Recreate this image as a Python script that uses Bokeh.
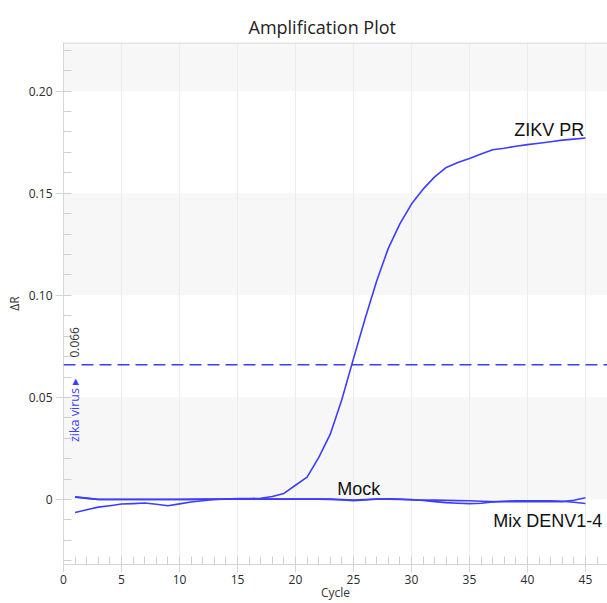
from bokeh.plotting import figure
from bokeh.models import (Range1d, SingleIntervalTicker, BoxAnnotation, Span, Label,
                          CustomJSTickFormatter)
from bokeh.embed import file_html
from bokeh.resources import INLINE
import math

# ---- data ----
cycles = list(range(1, 46))
zikv_pr = [-0.0063, -0.0050, -0.0037, -0.0030, -0.0022, -0.0020, -0.0017, -0.0023, -0.0030, -0.0021,
           -0.0012, -0.0006, 0.0000, 0.0003, 0.0005, 0.0005, 0.0006, 0.0015, 0.0030, 0.0070,
           0.0110, 0.0205, 0.0320, 0.0490, 0.0690, 0.0885, 0.1070, 0.1230, 0.1350, 0.1447,
           0.1520, 0.1580, 0.1626, 0.1650, 0.1670, 0.1692, 0.1713, 0.1720, 0.1730, 0.1738,
           0.1745, 0.1752, 0.1760, 0.1765, 0.1770]
mock = [0.0014, 0.0007, 0.0001, 0.0001, 0.0001, 0.0001, 0.0001, 0.0001, 0.0001, 0.0001,
        0.0001, 0.0002, 0.0002, 0.0002, 0.0002, 0.0003, 0.0003, 0.0003, 0.0003, 0.0003,
        0.0003, 0.0003, 0.0002, 0.0000, -0.0003, 0.0000, 0.0003, 0.0002, 0.0000, -0.0002,
        -0.0003, -0.0003, -0.0004, -0.0005, -0.0006, -0.0008, -0.0010, -0.0010, -0.0010, -0.0010,
        -0.0010, -0.0010, -0.0010, -0.0003, 0.0009]
mix_denv = [0.0012, 0.0006, 0.0000, 0.0000, 0.0000, 0.0000, 0.0000, 0.0000, 0.0000, 0.0000,
            0.0001, 0.0001, 0.0001, 0.0002, 0.0002, 0.0002, 0.0002, 0.0002, 0.0002, 0.0002,
            0.0002, 0.0002, 0.0001, -0.0002, -0.0005, -0.0002, 0.0002, 0.0004, 0.0003, 0.0000,
            -0.0005, -0.0010, -0.0015, -0.0018, -0.0020, -0.0018, -0.0012, -0.0008, -0.0006, -0.0006,
            -0.0006, -0.0006, -0.0008, -0.0013, -0.0019]
threshold = 0.066
threshold_text = "0.066"
target_text = "zika virus \u25B8"
series_names = ["ZIKV PR", "Mock", "Mix DENV1-4"]

LINE = "#3d3dff"
TICK_FONT = "Open Sans"
Y_TOP = 0.2238

p = figure(width=607, height=603, output_backend="svg", toolbar_location=None,
           x_range=Range1d(0, 46.9), y_range=Range1d(-0.0318, Y_TOP),
           min_border_left=63, min_border_right=0, min_border_top=42, min_border_bottom=39,
           background_fill_color="white", border_fill_color="white")

p.title.text = "Amplification Plot"
p.title.align = "left"
p.title.offset = 185
p.title.text_font = "Open Sans"
p.title.text_font_size = "18px"
p.title.text_font_style = "normal"
p.title.text_color = "#222222"
p.title.standoff = 8

p.outline_line_color = None

# bands
for b, t in [(0, 0.05), (0.10, 0.15), (0.20, Y_TOP)]:
    p.add_layout(BoxAnnotation(bottom=b, top=t, fill_color="#f7f7f7", fill_alpha=1,
                               line_color=None, level="image"))
# top frame edge
p.add_layout(Span(location=Y_TOP, dimension="width", line_color="#e3e3e3", line_width=3))

xt = SingleIntervalTicker(interval=5, num_minor_ticks=5)
yt = SingleIntervalTicker(interval=0.05, num_minor_ticks=5)
p.xaxis.ticker = xt
p.yaxis.ticker = yt
p.xgrid.ticker = xt
p.xgrid.grid_line_color = "#ececec"
p.ygrid.grid_line_color = None

p.yaxis.formatter = CustomJSTickFormatter(code="return Math.abs(tick) < 1e-9 ? '0' : tick.toFixed(2);")

for ax in (p.xaxis, p.yaxis):
    ax.axis_line_color = "#d6d6d6"
    ax.major_tick_line_color = "#d6d6d6"
    ax.minor_tick_line_color = "#cfcfcf"
    ax.major_tick_in = 0
    ax.major_tick_out = 8
    ax.minor_tick_in = 8
    ax.minor_tick_out = 0
    ax.major_label_text_font = TICK_FONT
    ax.major_label_text_font_size = "12px"
    ax.major_label_text_color = "#2b2b2b"
    ax.axis_label_text_font = TICK_FONT
    ax.axis_label_text_font_size = "12px"
    ax.axis_label_text_font_style = "normal"
    ax.axis_label_text_color = "#333333"

p.xaxis.axis_label = "Cycle"
p.xaxis.major_label_standoff = 2
p.xaxis.axis_label_standoff = -3
p.yaxis.axis_label = "\u0394R"
p.yaxis.major_label_standoff = 3
p.yaxis.axis_label_standoff = 3

# threshold
p.add_layout(Span(location=threshold, dimension="width", line_color=LINE,
                  line_width=1.5, line_dash="12 6"))
p.add_layout(Label(x=0.92, y=threshold + 0.0035, text=threshold_text, angle=math.pi / 2,
                   text_align="left", text_baseline="middle", text_font=TICK_FONT,
                   text_font_size="12px", text_color="#333333"))
p.add_layout(Label(x=0.92, y=threshold - 0.0064, text=target_text, angle=math.pi / 2,
                   text_align="right", text_baseline="middle", text_font=TICK_FONT,
                   text_font_size="12.5px", text_color=LINE))

# curves
for ys in (mix_denv, mock, zikv_pr):
    p.line(cycles, ys, line_color=LINE, line_width=1.6, line_join="round")

# series labels
lab_kw = dict(text_font="Liberation Sans", text_font_size="18px", text_color="#111111",
              text_baseline="middle")
p.add_layout(Label(x=44.9, y=0.1808, text=series_names[0], text_align="right", **lab_kw))
p.add_layout(Label(x=23.6, y=0.0050, text=series_names[1], text_align="left", **lab_kw))
p.add_layout(Label(x=37.04, y=-0.0103, text=series_names[2], text_align="left", **lab_kw))

open("out.html", "w").write(file_html(p, INLINE))
